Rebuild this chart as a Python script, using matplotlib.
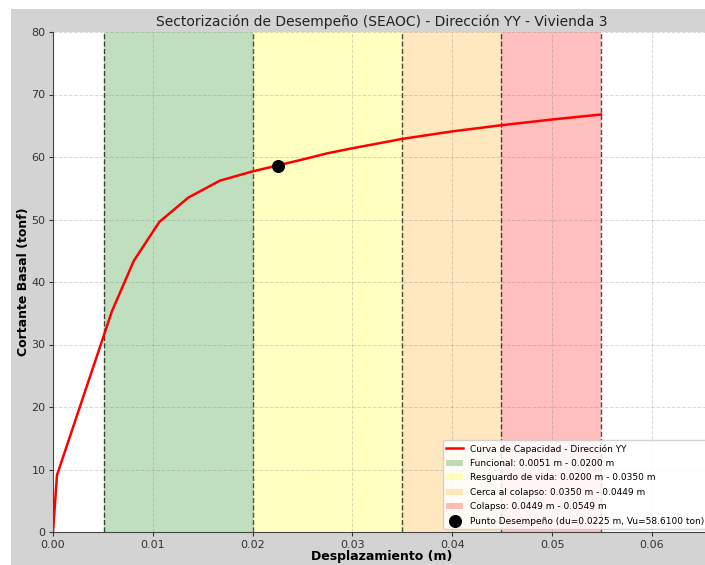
import matplotlib
matplotlib.use("Agg")
import matplotlib.pyplot as plt
from matplotlib.patches import Rectangle

# Capacity curve (displacement in m, base shear in tonf)
desplazamiento = [0.0, 0.0004, 0.0059, 0.0081, 0.01065, 0.01355, 0.0167, 0.0200,
                  0.0250, 0.0275, 0.0300, 0.0350, 0.0400, 0.0450, 0.0500, 0.0549]
cortante = [0.0, 9.1, 35.3, 43.4, 49.6, 53.5, 56.2, 57.7,
            59.6, 60.6, 61.4, 62.9, 64.1, 65.1, 66.0, 66.8]

# SEAOC performance ranges
sectores = ["Funcional", "Resguardo de vida", "Cerca al colapso", "Colapso"]
limites = [0.0051, 0.0200, 0.0350, 0.0449, 0.0549]
colores = ["green", "yellow", "orange", "red"]

# Performance point
du = 0.0225
vu = 58.61

W, H = 705, 565
fig = plt.figure(figsize=(W / 100, H / 100), dpi=100, facecolor="white")
fig.patches.append(Rectangle((11 / W, 0), 1, 1 - 9 / H, transform=fig.transFigure,
                             facecolor="#d3d3d3", edgecolor="none", zorder=-1))

x_max = limites[-1] * 1.2
ax_w = x_max * 9983
ax = fig.add_axes([53 / W, 33 / H, ax_w / W, 500 / H])
ax.set_facecolor("white")

for i, nombre in enumerate(sectores):
    a, b = limites[i], limites[i + 1]
    ax.axvspan(a, b, color=colores[i], alpha=0.25, lw=0,
               label=f"{nombre}: {a:.4f} m - {b:.4f} m", zorder=0)
for lim in limites:
    ax.axvline(lim, color="black", linestyle="--", linewidth=1, alpha=0.7, zorder=1)

ax.plot(desplazamiento, cortante, color="red", linewidth=1.8,
        label="Curva de Capacidad - Dirección YY", zorder=3)
ax.scatter([du], [vu], color="black", s=70, zorder=4,
           label=f"Punto Desempeño (du={du:.4f} m, Vu={vu:.4f} ton)")

ax.set_xlim(0, x_max)
ax.set_ylim(0, 80)
ax.set_xticks([0.0, 0.01, 0.02, 0.03, 0.04, 0.05, 0.06])
ax.set_yticks(range(0, 81, 10))
ax.grid(True, linestyle="--", color="gray", alpha=0.3, linewidth=0.7)
for s in ("top", "right"):
    ax.spines[s].set_visible(False)
for s in ("left", "bottom"):
    ax.spines[s].set_color("#444444")
ax.tick_params(labelsize=8, colors="#333333", length=3, pad=2.5)

ax.set_title("Sectorización de Desempeño (SEAOC) - Dirección YY - Vivienda 3",
             fontsize=10, color="#222222", pad=4)
ax.set_xlabel("Desplazamiento (m)", fontsize=9, fontweight="bold", labelpad=0)
ax.set_ylabel("Cortante Basal (tonf)", fontsize=9, fontweight="bold", labelpad=1)

handles, labels = ax.get_legend_handles_labels()
order = [labels.index("Curva de Capacidad - Dirección YY")] + \
        [labels.index(l) for l in labels if l.split(":")[0] in sectores] + \
        [labels.index(l) for l in labels if l.startswith("Punto")]
ax.legend([handles[i] for i in order], [labels[i] for i in order],
          loc="lower left", bbox_to_anchor=((440 - 53) / ax_w, 0.0),
          fontsize=6.5, framealpha=0.85, borderaxespad=0.3, handlelength=1.9,
          handletextpad=0.7, labelspacing=0.6, borderpad=0.4)

fig.savefig("out.png", dpi=100, facecolor=fig.get_facecolor())
